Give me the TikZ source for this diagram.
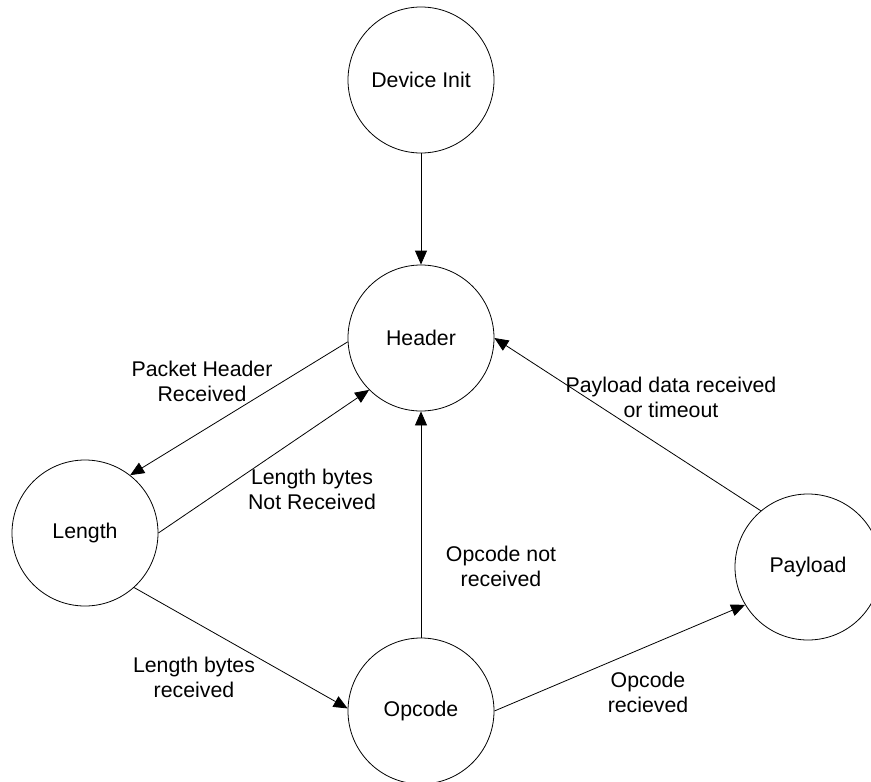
\documentclass[tikz,border=0pt]{standalone}
\usepackage{fontspec}
\setmainfont{Liberation Sans}
\usetikzlibrary{arrows.meta}
\begin{document}
\begin{tikzpicture}[x=1pt,y=-1pt,
  state/.style={circle,draw,line width=0.8pt,minimum size=146pt,inner sep=0pt,font=\fontsize{21.3}{25}\selectfont},
  lbl/.style={align=center,font=\fontsize{21.3}{25}\selectfont,inner sep=0pt},
  conn/.style={line width=0.8pt,-{Triangle[length=14pt,width=12pt]}}]
\useasboundingbox (0,0) rectangle (871,782);
\node[state] (init) at (421,80) {Device Init};
\node[state] (hdr) at (421,338) {Header};
\node[state] (len) at (85,533) {Length};
\node[state] (opc) at (421,711) {Opcode};
\node[state] (pay) at (808,567) {Payload};

\draw[conn] (init.south) -- (hdr.north);
\draw[conn] (hdr.183) -- (len.52);
\draw[conn] (len.east) -- (hdr.225);
\draw[conn] (len.312) -- (opc.178);
\draw[conn] (opc.north) -- (hdr.south);
\draw[conn] (opc.east) -- (pay.211);
\draw[conn] (pay.130) -- (hdr.east);

\node[lbl] (l1) at (202,381) {Packet Header\\Received};
\node[lbl] (l2) at (312,489) {Length bytes\\Not Received};
\node[lbl] (l3) at (501,566) {Opcode not\\received};
\node[lbl] (l4) at (194,677) {Length bytes\\received};
\node[lbl] (l5) at (648,692) {Opcode\\recieved};
\node[lbl] (l6) at (671,397) {Payload data received\\or timeout};
\end{tikzpicture}
\end{document}
